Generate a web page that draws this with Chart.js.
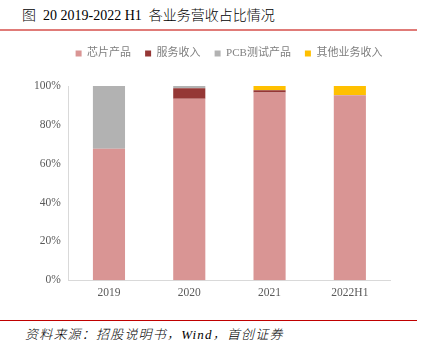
<!DOCTYPE html>
<html><head><meta charset="utf-8">
<script src="https://cdn.jsdelivr.net/npm/chart.js@4.4.0/dist/chart.umd.min.js"></script>
<style>
html,body{margin:0;padding:0;background:#fff;width:423px;height:347px;overflow:hidden;position:relative;font-family:"Liberation Serif","Noto Sans CJK SC",serif;}
#title{position:absolute;left:22px;top:4px;font-size:14px;font-weight:300;color:#000;white-space:nowrap;}
#topline{position:absolute;left:0;top:29px;width:417px;height:2px;background:#E07B78;}
#wrap{position:absolute;left:0;top:34px;width:423px;height:272px;}
#botline{position:absolute;left:0;top:320px;width:417px;height:1px;background:#C00000;}
#src{position:absolute;left:25px;top:324px;font-size:13px;letter-spacing:1.2px;font-style:italic;font-weight:300;color:#000;white-space:nowrap;}
</style></head><body>
<div id="title">图&nbsp; 20 2019-2022 H1&nbsp; 各业务营收占比情况</div>
<div id="topline"></div>
<div id="wrap"><canvas id="c"></canvas></div>
<div id="botline"></div>
<div id="src">资料来源：招股说明书，Wind，首创证券</div>
<script>
const categories = ["2019", "2020", "2021", "2022H1"];
const chipProducts = [67.7, 93.4, 96.6, 95.2];
const serviceIncome = [0, 5.5, 1.2, 0];
const pcbProducts = [32.3, 1.1, 0, 0.2];
const otherIncome = [0, 0, 2.2, 4.6];
const yTicks = [0, 20, 40, 60, 80, 100];

const names = ["芯片产品", "服务收入", "PCB测试产品", "其他业务收入"];
const colors = ["#D99594", "#953735", "#B2B2B2", "#FFC000"];
const series = [chipProducts, serviceIncome, pcbProducts, otherIncome];

const legendGap = {
  id: 'legendGap',
  beforeInit(chart) {
    const orig = chart.legend.fit;
    chart.legend.fit = function () { orig.bind(chart.legend)(); this.height += 17; };
  },
  afterLayout(chart) {
    chart.legend.left += 21;
    chart.legend.right += 21;
  }
};

const fontFam = '"Liberation Serif","Noto Sans CJK SC",serif';

new Chart(document.getElementById('c'), {
  type: 'bar',
  data: {
    labels: categories,
    datasets: series.map((d, i) => ({
      label: names[i], data: d, backgroundColor: colors[i],
      barPercentage: 0.4, categoryPercentage: 1.0, stack: 's'
    }))
  },
  plugins: [legendGap],
  options: {
    responsive: true, maintainAspectRatio: false, animation: false,
    layout: {padding: {left: 26, right: 33, top: 0, bottom: 0}},
    plugins: {
      legend: {
        position: 'top',
        labels: {boxWidth: 6, boxHeight: 6, color: '#7F7F7F', padding: 14,
          font: {family: fontFam, size: 11}}
      },
      tooltip: {enabled: false}
    },
    scales: {
      x: {
        stacked: true,
        grid: {display: false, drawTicks: false},
        border: {color: '#D9D9D9'},
        ticks: {color: '#595959', padding: 6, font: {family: fontFam, size: 11.5}}
      },
      y: {
        stacked: true, min: 0, max: 100,
        afterBuildTicks: ax => { ax.ticks = yTicks.map(v => ({value: v})); },
        grid: {display: false, drawTicks: false},
        border: {color: '#D9D9D9'},
        ticks: {color: '#595959', padding: 8, callback: v => v + '%',
          font: {family: fontFam, size: 11.5}}
      }
    }
  }
});
</script>
</body></html>
